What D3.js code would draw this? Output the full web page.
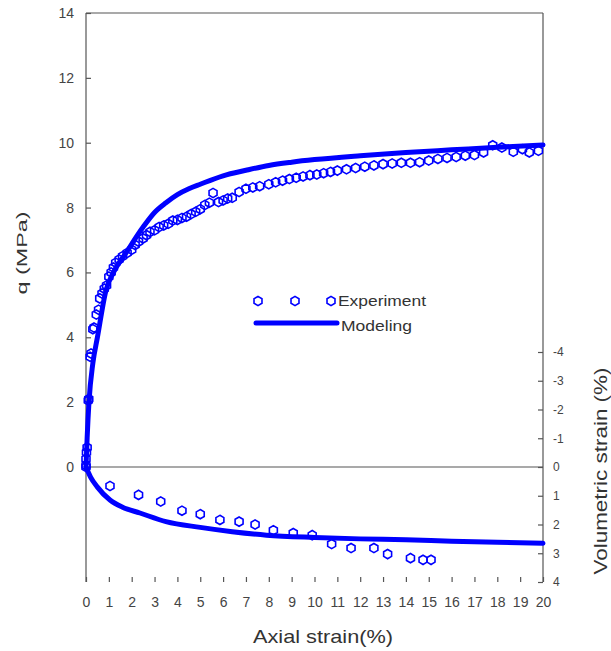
<!DOCTYPE html>
<html>
<head>
<meta charset="utf-8">
<script src="https://cdn.jsdelivr.net/npm/d3@7"></script>
<style>
  body { margin: 0; background: #fff; }
  text { font-family: "Liberation Sans", Arial, sans-serif; }
</style>
</head>
<body>
<svg id="chart"></svg>
<script>
// deviatoric stress q (MPa) vs axial strain (%)
const qModelStrain = [0, 0.05, 0.13, 0.3, 0.5, 0.875, 1.2, 1.75, 2.5, 3, 3.5, 4, 4.5, 5, 6, 7, 8, 9, 10, 12, 14, 16, 18, 20];
const qModel = [0, 0.9, 2, 3.2, 4.0, 5.45, 6.0, 6.6, 7.4, 7.85, 8.15, 8.4, 8.58, 8.72, 8.98, 9.15, 9.3, 9.4, 9.48, 9.6, 9.7, 9.78, 9.86, 9.93];

const qExpStrain = [0, 0, 0.02, 0.05, 0.1, 0.12, 0.18, 0.22, 0.3, 0.35, 0.45, 0.55, 0.6, 0.7, 0.8, 0.9, 1.0, 1.1, 1.2, 1.3, 1.45, 1.6, 1.8, 2.0, 2.15, 2.3, 2.5, 2.65, 2.8, 3.0, 3.2, 3.4, 3.6, 3.8, 4.0, 4.2, 4.4, 4.6, 4.8, 5.0, 5.2, 5.4, 5.56, 5.8, 6.0, 6.2, 6.4, 6.7, 7.0, 7.3, 7.6, 8.0, 8.3, 8.6, 8.9, 9.2, 9.5, 9.8, 10.1, 10.4, 10.7, 11.0, 11.4, 11.8, 12.2, 12.6, 13.0, 13.4, 13.8, 14.2, 14.6, 15.0, 15.4, 15.8, 16.2, 16.6, 17.0, 17.4, 17.8, 18.2, 18.7, 19.1, 19.4, 19.8];
const qExp = [0.05, 0.25, 0.45, 0.6, 2.05, 2.1, 3.4, 3.5, 4.25, 4.3, 4.7, 4.85, 5.2, 5.35, 5.5, 5.6, 5.87, 6.0, 6.15, 6.3, 6.4, 6.5, 6.6, 6.7, 6.85, 6.95, 7.05, 7.15, 7.25, 7.3, 7.4, 7.45, 7.5, 7.6, 7.62, 7.68, 7.72, 7.8, 7.87, 7.95, 8.08, 8.15, 8.45, 8.17, 8.22, 8.28, 8.3, 8.48, 8.58, 8.62, 8.66, 8.72, 8.78, 8.83, 8.88, 8.92, 8.96, 9.0, 9.02, 9.06, 9.1, 9.14, 9.18, 9.22, 9.26, 9.3, 9.34, 9.36, 9.38, 9.38, 9.4, 9.45, 9.5, 9.53, 9.56, 9.6, 9.62, 9.7, 9.92, 9.85, 9.72, 9.8, 9.7, 9.75];

// volumetric strain (%) vs axial strain (%)
const vModelStrain = [0, 0.2, 0.5, 1.05, 1.6, 2.36, 3.5, 5, 6.4, 7.9, 10, 12, 14, 16, 18, 20];
const vModel = [0, 0.35, 0.7, 1.15, 1.4, 1.6, 1.9, 2.1, 2.25, 2.37, 2.45, 2.5, 2.53, 2.58, 2.62, 2.65];

const vExpStrain = [0, 1.05, 2.3, 3.27, 4.2, 5.0, 5.86, 6.7, 7.4, 8.2, 9.07, 9.9, 10.75, 11.6, 12.6, 13.2, 14.2, 14.75, 15.1];
const vExp = [0, 0.66, 0.97, 1.2, 1.52, 1.64, 1.84, 1.9, 2.0, 2.2, 2.3, 2.37, 2.68, 2.82, 2.82, 3.03, 3.17, 3.23, 3.23];

const xTicks = d3.range(0, 21);
const qTicks = [0, 2, 4, 6, 8, 10, 12, 14];
const vTicks = [-4, -3, -2, -1, 0, 1, 2, 3, 4];
const seriesNames = ["Experiment", "Modeling"];

const blue = "#0000ff";
const axisColor = "#555";

const svg = d3.select("#chart").attr("width", 611).attr("height", 651);

const x = d3.scaleLinear().domain([0, 20]).range([86, 543]);
const yq = d3.scaleLinear().domain([0, 14]).range([467, 13]);
const yv = d3.scaleLinear().domain([-4, 4]).range([352, 582]);

// frame
const frame = svg.append("g").attr("stroke", axisColor).attr("stroke-width", 1.2).attr("fill", "none");
frame.append("line").attr("x1", x(0)).attr("x2", x(20)).attr("y1", yq(14)).attr("y2", yq(14));
frame.append("line").attr("x1", x(0)).attr("x2", x(0)).attr("y1", yq(14)).attr("y2", yv(4));
frame.append("line").attr("x1", x(20)).attr("x2", x(20)).attr("y1", yq(14)).attr("y2", yv(4));
frame.append("line").attr("x1", x(0)).attr("x2", x(20)).attr("y1", yq(0)).attr("y2", yq(0));

// axes, ticks pointing inward
function styleAxis(g, size) {
    g.select(".domain").remove();
    g.selectAll(".tick line").attr("stroke", axisColor).attr("stroke-width", 1.2);
    g.selectAll(".tick text").attr("fill", "#444").attr("font-size", size)
        .attr("font-family", "'Liberation Sans', Arial, sans-serif");
}

svg.append("g")
    .attr("transform", `translate(${x(0)},0)`)
    .call(d3.axisLeft(yq).tickValues(qTicks).tickSize(-5).tickPadding(12))
    .call(g => styleAxis(g, 14));

svg.append("g")
    .attr("transform", `translate(0,${yv(4)})`)
    .call(d3.axisBottom(x).tickValues(xTicks).tickSize(-5).tickPadding(15))
    .call(g => styleAxis(g, 14));

svg.append("g")
    .attr("transform", `translate(${x(20)},0)`)
    .call(d3.axisRight(yv).tickValues(vTicks).tickSize(-5).tickPadding(10).tickFormat(d => String(d)))
    .call(g => styleAxis(g, 12));

// axis titles
svg.append("text")
    .attr("transform", "translate(27,253) rotate(-90)")
    .attr("text-anchor", "middle")
    .attr("font-size", 15)
    .attr("fill", "#333")
    .attr("textLength", 83).attr("lengthAdjust", "spacingAndGlyphs")
    .text("q (MPa)");

svg.append("text")
    .attr("x", 323).attr("y", 643)
    .attr("text-anchor", "middle")
    .attr("font-size", 19)
    .attr("fill", "#333")
    .attr("textLength", 140).attr("lengthAdjust", "spacingAndGlyphs")
    .text("Axial strain(%)");

svg.append("text")
    .attr("transform", "translate(607,471) rotate(-90)")
    .attr("text-anchor", "middle")
    .attr("font-size", 18)
    .attr("fill", "#333")
    .attr("textLength", 207).attr("lengthAdjust", "spacingAndGlyphs")
    .text("Volumetric strain (%)");

// hexagon marker
const hexPath = d3.line().curve(d3.curveLinearClosed)(
    d3.range(6).map(i => [4.6 * Math.sin(i * Math.PI / 3), -4.6 * Math.cos(i * Math.PI / 3)])
);

// model curves
const qLine = d3.line().curve(d3.curveMonotoneX).x((d, i) => x(qModelStrain[i])).y(d => yq(d));
const vLine = d3.line().curve(d3.curveMonotoneX).x((d, i) => x(vModelStrain[i])).y(d => yv(d));

svg.append("path").datum(qModel).attr("d", qLine)
    .attr("fill", "none").attr("stroke", blue).attr("stroke-width", 5).attr("stroke-linecap", "round");
svg.append("path").datum(vModel).attr("d", vLine)
    .attr("fill", "none").attr("stroke", blue).attr("stroke-width", 5).attr("stroke-linecap", "round");

// experiment points
svg.append("g").selectAll("path").data(qExp).join("path")
    .attr("d", hexPath)
    .attr("transform", (d, i) => `translate(${x(qExpStrain[i])},${yq(d)})`)
    .attr("fill", "none").attr("stroke", blue).attr("stroke-width", 1.6);

svg.append("g").selectAll("path").data(vExp).join("path")
    .attr("d", hexPath)
    .attr("transform", (d, i) => `translate(${x(vExpStrain[i])},${yv(d)})`)
    .attr("fill", "none").attr("stroke", blue).attr("stroke-width", 1.6);

// legend
const legend = svg.append("g");
[258, 295, 331].forEach(px => {
    legend.append("path").attr("d", hexPath).attr("transform", `translate(${px},301)`)
        .attr("fill", "none").attr("stroke", blue).attr("stroke-width", 1.6);
});
legend.append("line").attr("x1", 256).attr("x2", 337).attr("y1", 323).attr("y2", 323)
    .attr("stroke", blue).attr("stroke-width", 5).attr("stroke-linecap", "round");
legend.append("text").attr("x", 338).attr("y", 306).attr("font-size", 15).attr("fill", "#333")
    .attr("textLength", 88).attr("lengthAdjust", "spacingAndGlyphs").text(seriesNames[0]);
legend.append("text").attr("x", 341).attr("y", 331).attr("font-size", 15).attr("fill", "#333")
    .attr("textLength", 71).attr("lengthAdjust", "spacingAndGlyphs").text(seriesNames[1]);
</script>
</body>
</html>
